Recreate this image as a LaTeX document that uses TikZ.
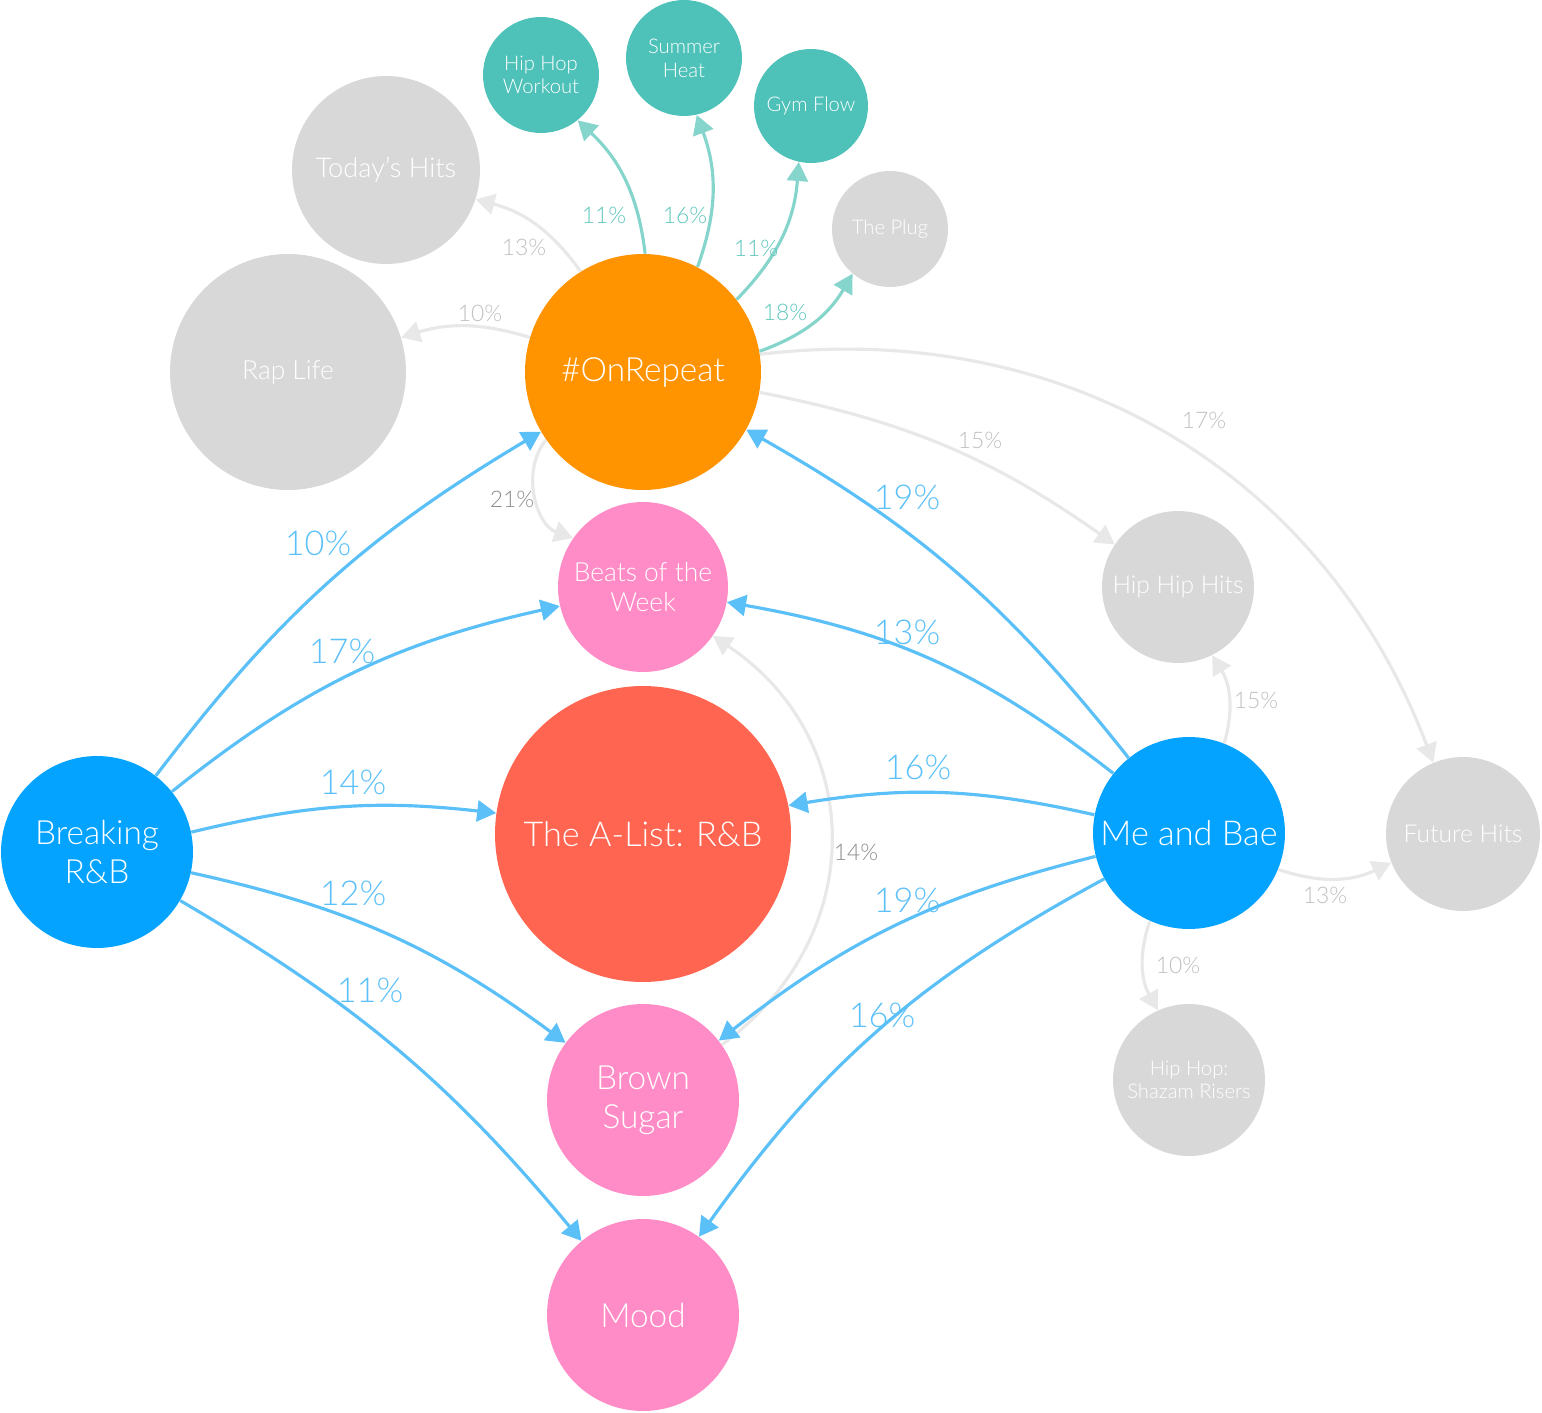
\documentclass[tikz,border=0pt]{standalone}
\usepackage{fontspec}
\setmainfont{Lato}[UprightFont=* Light]
\usepackage{tikz}
\usetikzlibrary{arrows.meta}
\definecolor{orangeC}{HTML}{FF9400}
\definecolor{blueC}{HTML}{03A3FF}
\definecolor{tealC}{HTML}{4EC1B9}
\definecolor{pinkC}{HTML}{FF8CC6}
\definecolor{redC}{HTML}{FF6550}
\definecolor{grayC}{HTML}{D8D8D8}
\definecolor{blueE}{HTML}{5BC0F8}
\definecolor{tealE}{HTML}{85D5CC}
\definecolor{grayE}{HTML}{E8E8E8}
\definecolor{grayL}{HTML}{BFBFBF}
\definecolor{darkL}{HTML}{8C8C8C}
\definecolor{tealL}{HTML}{5EC6BC}
\tikzstyle{bubble} = [circle, inner sep=0pt, align=center, text=white]
\tikzstyle{hugetext} = [font=\fontsize{19.5}{22}\selectfont]
\tikzstyle{bigtext} = [font=\fontsize{19}{22}\selectfont]
\tikzstyle{midtext} = [font=\fontsize{15}{17.5}\selectfont]
\tikzstyle{smalltext} = [font=\fontsize{11.5}{13.5}\selectfont]
\tikzstyle{edge} = [line width=1.8pt, -{Triangle[length=0.38cm, width=0.42cm]}]
\tikzstyle{blueedge} = [edge, draw=blueE]
\tikzstyle{tealedge} = [edge, draw=tealE]
\tikzstyle{grayedge} = [edge, draw=grayE]
\tikzstyle{bluelbl} = [text=blueE, font=\fontsize{19.5}{22}\selectfont]
\tikzstyle{teallbl} = [text=tealL, font=\fontsize{13}{15}\selectfont]
\tikzstyle{graylbl} = [text=grayL, font=\fontsize{13}{15}\selectfont]
\tikzstyle{darklbl} = [text=darkL, font=\fontsize{13}{15}\selectfont]

\begin{document}
\begin{tikzpicture}[x=0.02cm, y=-0.02cm]
\useasboundingbox (0,0) rectangle (1542,1413);

\node[bubble, bigtext, fill=orangeC, minimum size=4.72cm] (onrepeat) at (643,372) {\#OnRepeat};
\node[bubble, midtext, fill=grayC, minimum size=4.72cm] (raplife) at (288,372) {Rap Life};
\node[bubble, midtext, fill=grayC, minimum size=3.76cm, font=\fontsize{15.5}{18}\selectfont] (todays) at (386,170) {Today's Hits};
\node[bubble, smalltext, fill=tealC, minimum size=2.32cm] (workout) at (541,75) {Hip Hop\\Workout};
\node[bubble, smalltext, fill=tealC, minimum size=2.32cm] (summer) at (684,58) {Summer\\Heat};
\node[bubble, smalltext, fill=tealC, minimum size=2.28cm] (gymflow) at (811,106) {Gym Flow};
\node[bubble, smalltext, fill=grayC, minimum size=2.32cm] (plug) at (890,229) {The Plug};
\node[bubble, midtext, fill=pinkC, minimum size=3.4cm] (beats) at (643,587) {Beats of the\\Week};
\node[bubble, hugetext, fill=redC, minimum size=5.92cm] (alist) at (643,834) {The A-List: R\&B};
\node[bubble, bigtext, fill=pinkC, minimum size=3.84cm] (brown) at (643,1100) {Brown\\Sugar};
\node[bubble, bigtext, fill=pinkC, minimum size=3.84cm] (mood) at (643,1315) {Mood};
\node[bubble, bigtext, fill=blueC, minimum size=3.84cm] (breaking) at (97,852) {Breaking\\R\&B};
\node[bubble, hugetext, fill=blueC, minimum size=3.84cm] (mebae) at (1189,833) {Me and Bae};
\node[bubble, midtext, fill=grayC, minimum size=3.04cm, font=\fontsize{14}{17}\selectfont] (hiphiphits) at (1178,587) {Hip Hip Hits};
\node[bubble, midtext, fill=grayC, minimum size=3.08cm, font=\fontsize{14}{17}\selectfont] (future) at (1463,834) {Future Hits};
\node[bubble, smalltext, fill=grayC, minimum size=3.04cm] (shazam) at (1189,1080) {Hip Hop:\\Shazam Risers};

\draw[grayedge] (onrepeat) to[bend right=20] (todays);
\draw[grayedge] (onrepeat) to[bend right=17] (raplife);
\draw[tealedge] (onrepeat) to[bend right=20] (workout);
\draw[tealedge] (onrepeat) to[bend right=20] (summer);
\draw[tealedge] (onrepeat) to[bend right=20] (gymflow);
\draw[tealedge] (onrepeat) to[bend right=20] (plug);
\draw[grayedge] (onrepeat) to[bend left=12] (hiphiphits);
\draw[grayedge] (onrepeat) to[bend left=38] (future);
\draw[grayedge] (onrepeat) to[bend right=55] (beats);
\draw[grayedge] (brown) to[bend right=55, looseness=1.15] (beats);

\draw[blueedge] (breaking) to[bend left=11] (onrepeat);
\draw[blueedge] (breaking) to[bend left=13] (beats);
\draw[blueedge] (breaking) to[bend left=10] (alist);
\draw[blueedge] (breaking) to[bend left=12] (brown);
\draw[blueedge] (breaking) to[bend left=10] (mood);

\draw[blueedge] (mebae) to[bend right=11] (onrepeat);
\draw[blueedge] (mebae) to[bend right=14] (beats);
\draw[blueedge] (mebae) to[bend right=11] (alist);
\draw[blueedge] (mebae) to[bend right=12] (brown);
\draw[blueedge] (mebae) to[bend right=13] (mood);
\draw[grayedge] (mebae) to[bend right=24] (hiphiphits);
\draw[grayedge] (mebae) to[bend right=22] (future);
\draw[grayedge] (mebae) to[bend right=24] (shazam);

\node[graylbl] (ltodays) at (524,247) {13\%};
\node[graylbl] (lrap) at (480,313) {10\%};
\node[teallbl] (lworkout) at (604,215) {11\%};
\node[teallbl] (lsummer) at (685,215) {16\%};
\node[teallbl] (lgym) at (756,248) {11\%};
\node[teallbl] (lplug) at (785,312) {18\%};
\node[graylbl] (lhhh) at (980,440) {15\%};
\node[graylbl] (lfuture) at (1204,420) {17\%};
\node[darklbl] (lbeats) at (512,499) {21\%};
\node[darklbl] (lbrown) at (856,852) {14\%};

\node[bluelbl] (lbrkon) at (318,543) {10\%};
\node[bluelbl] (lbrkbeats) at (342,651) {17\%};
\node[bluelbl] (lbrkalist) at (353,782) {14\%};
\node[bluelbl] (lbrkbrown) at (353,893) {12\%};
\node[bluelbl] (lbrkmood) at (370,990) {11\%};
\node[bluelbl] (lmeon) at (907,497) {19\%};
\node[bluelbl] (lmebeats) at (907,632) {13\%};
\node[bluelbl] (lmealist) at (918,767) {16\%};
\node[bluelbl] (lmebrown) at (907,900) {19\%};
\node[bluelbl] (lmemood) at (882,1015) {16\%};
\node[graylbl] (lmehhh) at (1256,700) {15\%};
\node[graylbl] (lmefuture) at (1325,895) {13\%};
\node[graylbl] (lmeshazam) at (1178,965) {10\%};
\end{tikzpicture}
\end{document}
